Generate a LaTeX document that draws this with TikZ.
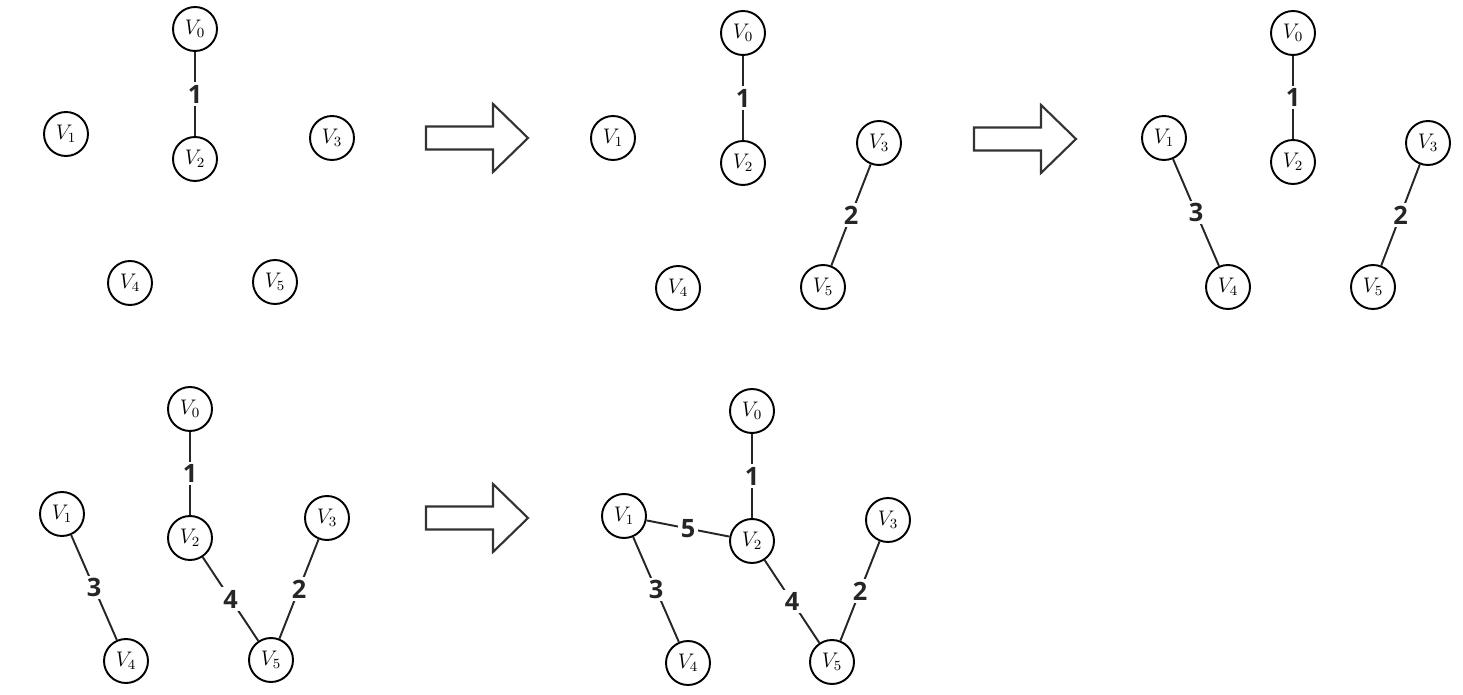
\documentclass[tikz,border=0pt]{standalone}
\usepackage{fontspec}
\usepackage{amsmath}
\usepackage{tikz}
\usetikzlibrary{positioning, calc}
\newfontfamily\wtfont{Open Sans}

\begin{document}
\begin{tikzpicture}[
  x=0.02cm, y=-0.02cm,
  vert/.style={circle, draw, line width=1.1pt, minimum size=0.88cm,
    inner sep=0pt, font=\large},
  edge/.style={line width=1.1pt, draw=black!85},
  wt/.style={fill=white, inner sep=1.5pt, font=\wtfont\bfseries\Large,
    text=black!85},
  fat/.style={draw=black!80, line width=1.2pt, fill=white}
]
\useasboundingbox (0,0) rectangle (1463,695);

% step 1
\node[vert] (a0) at (195,29)  {$V_0$};
\node[vert] (a1) at (66,134)  {$V_1$};
\node[vert] (a2) at (195,159) {$V_2$};
\node[vert] (a3) at (332,138) {$V_3$};
\node[vert] (a4) at (130,283) {$V_4$};
\node[vert] (a5) at (275,282) {$V_5$};
\draw[edge] (a0) -- node[wt] {1} (a2);

% step 2
\node[vert] (b0) at (743,33)  {$V_0$};
\node[vert] (b1) at (613,138) {$V_1$};
\node[vert] (b2) at (743,163) {$V_2$};
\node[vert] (b3) at (879,143) {$V_3$};
\node[vert] (b4) at (678,288) {$V_4$};
\node[vert] (b5) at (823,287) {$V_5$};
\draw[edge] (b0) -- node[wt] {1} (b2);
\draw[edge] (b3) -- node[wt] {2} (b5);

% step 3
\node[vert] (c0) at (1293,33)  {$V_0$};
\node[vert] (c1) at (1164,138) {$V_1$};
\node[vert] (c2) at (1293,162) {$V_2$};
\node[vert] (c3) at (1428,143) {$V_3$};
\node[vert] (c4) at (1228,287) {$V_4$};
\node[vert] (c5) at (1373,287) {$V_5$};
\draw[edge] (c0) -- node[wt] {1} (c2);
\draw[edge] (c1) -- node[wt] {3} (c4);
\draw[edge] (c3) -- node[wt] {2} (c5);

% step 4
\node[vert] (d0) at (190,409) {$V_0$};
\node[vert] (d1) at (62,514)  {$V_1$};
\node[vert] (d2) at (190,538) {$V_2$};
\node[vert] (d3) at (327,518) {$V_3$};
\node[vert] (d4) at (126,661) {$V_4$};
\node[vert] (d5) at (271,660) {$V_5$};
\draw[edge] (d0) -- node[wt] {1} (d2);
\draw[edge] (d1) -- node[wt] {3} (d4);
\draw[edge] (d2) -- node[wt] {4} (d5);
\draw[edge] (d3) -- node[wt] {2} (d5);

% step 5
\node[vert] (e0) at (752,411) {$V_0$};
\node[vert] (e1) at (624,516) {$V_1$};
\node[vert] (e2) at (752,541) {$V_2$};
\node[vert] (e3) at (888,520) {$V_3$};
\node[vert] (e4) at (688,663) {$V_4$};
\node[vert] (e5) at (832,662) {$V_5$};
\draw[edge] (e0) -- node[wt] {1} (e2);
\draw[edge] (e1) -- node[wt] {5} (e2);
\draw[edge] (e1) -- node[wt] {3} (e4);
\draw[edge] (e2) -- node[wt] {4} (e5);
\draw[edge] (e3) -- node[wt] {2} (e5);

% big arrows between steps
\foreach \ax/\ay in {426/138, 974/139, 426/518}
  \draw[fat, shift={(\ax,\ay)}] (0,-11.5) -- (67,-11.5) -- (67,-34)
    -- (102,0) -- (67,34) -- (67,11.5) -- (0,11.5) -- cycle;
\end{tikzpicture}
\end{document}
